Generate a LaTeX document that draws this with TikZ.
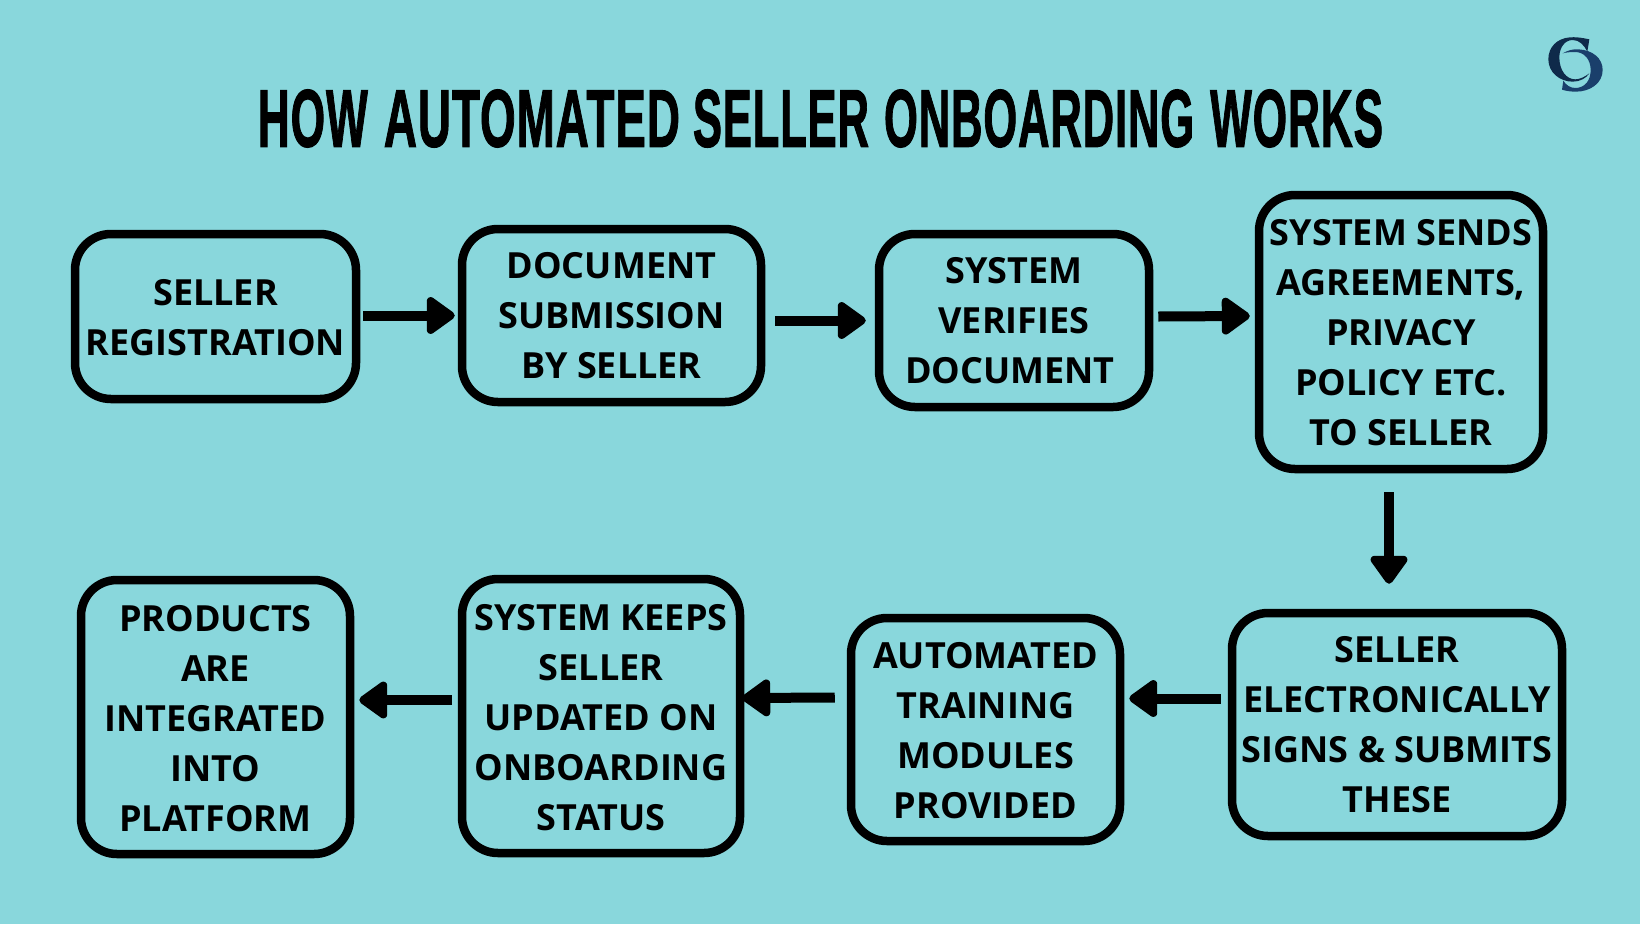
\documentclass[tikz,border=0pt]{standalone}
\usepackage{fontspec}
\usepackage{graphicx}
\usetikzlibrary{arrows.meta}
\setmainfont{Open Sans}[BoldFont={* Bold}]
\newfontfamily\titlefont{Liberation Sans Bold}[FakeBold=1.6,LetterSpace=2]
\definecolor{bgc}{HTML}{89D7DC}
\definecolor{logoa}{HTML}{0F2A4A}
\definecolor{logob}{HTML}{1A3F6B}
\newcommand{\tw}[2]{\resizebox{#1pt}{57pt}{\titlefont #2}}
\newcommand{\dn}[1]{\rule{0pt}{#1pt}}
\tikzset{
  stepbox/.style={draw=black,line width=8.5pt,rounded corners=36pt,inner sep=0pt,align=center,
    font=\fontsize{36}{50}\selectfont\bfseries,text=black},
  flowarr/.style={draw=black,line width=10pt,-{Triangle[length=31pt,width=42pt,round]}},
}
\begin{document}
\begin{tikzpicture}[x=1pt,y=-1pt]
\useasboundingbox (0,0) rectangle (1640,924);
\fill[bgc] (0,0) rectangle (1640,924);
\node[inner sep=0pt,anchor=center] (title) at (820.5,118.5) {\tw{110}{HOW}\hspace{16pt}\tw{296}{AUTOMATED}\hspace{13pt}\tw{176}{SELLER}\hspace{15pt}\tw{310}{ONBOARDING}\hspace{16pt}\tw{173}{WORKS}};
% logo
\begin{scope}[shift={(1500,20)},x=0.3333pt,y=-0.3333pt]
\fill[logoa] (268,58) .. controls (240,52) and (225,51) .. (210,52) .. controls (170,55) and (145,82) .. (145,118) .. controls (145,158) and (180,185) .. (218,185) .. controls (240,185) and (258,175) .. (268,160) .. controls (255,170) and (240,178) .. (226,178) .. controls (198,178) and (178,150) .. (178,112) .. controls (178,82) and (195,60) .. (218,60) .. controls (238,60) and (252,75) .. (262,95) -- cycle;
\fill[logob] (188,100) .. controls (205,90) and (220,87) .. (235,88) .. controls (278,90) and (308,115) .. (308,150) .. controls (308,190) and (270,215) .. (228,215) .. controls (212,215) and (198,213) .. (186,209) -- (190,182) .. controls (198,195) and (210,204) .. (226,204) .. controls (254,204) and (272,182) .. (272,150) .. controls (272,118) and (252,96) .. (226,96) .. controls (212,96) and (198,97) .. (188,100) -- cycle;
\end{scope}
% top row
\node[stepbox,minimum width=281pt,minimum height=165pt] (a) at (215.5,316.5) {\dn{28.8}SELLER\\REGISTRATION};
\node[stepbox,minimum width=299pt,minimum height=173pt] (b) at (611.5,315.5) {DOCUMENT\\SUBMISSION\\BY SELLER};
\node[stepbox,minimum width=270pt,minimum height=173pt] (c) at (1014,320.5) {SYSTEM\\VERIFIES\\DOCUMENT\rule{8pt}{0pt}};
\node[stepbox,minimum width=284pt,minimum height=274pt] (d) at (1401,332) {\dn{27.5}SYSTEM SENDS\\AGREEMENTS,\\PRIVACY\\POLICY ETC.\\TO SELLER};
% bottom row
\node[stepbox,minimum width=330pt,minimum height=223pt] (e) at (1397,724.5) {SELLER\\ELECTRONICALLY\\SIGNS \& SUBMITS\\THESE};
\node[stepbox,minimum width=269pt,minimum height=223pt] (f) at (985.5,729.5) {\dn{28.8}AUTOMATED\\TRAINING\\MODULES\\PROVIDED};
\node[stepbox,minimum width=278pt,minimum height=274pt] (g) at (601,716) {\dn{29.2}SYSTEM KEEPS\\SELLER\\UPDATED ON\\ONBOARDING\\STATUS};
\node[stepbox,minimum width=269pt,minimum height=274pt] (h) at (215.5,717) {\dn{29.2}PRODUCTS\\ARE\\INTEGRATED\\INTO\\PLATFORM};
% connectors
\draw[flowarr] ([shift={(3,-1)}]a.east) -- ([shift={(-3,0)}]b.west);
\draw[flowarr] ([shift={(10,5)}]b.east) -- ([shift={(-9,0)}]c.west);
\draw[flowarr] ([shift={(5,-4)}]c.east) -- ([shift={(-5,-16)}]d.west);
\draw[flowarr] ([shift={(-12,19)}]d.south) -- ([shift={(-8,-25)}]e.north);
\draw[flowarr] ([shift={(-7,-26)}]e.west) -- ([shift={(5,-31)}]f.east);
\draw[flowarr] ([shift={(-12,-32)}]f.west) -- ([shift={(-2,-18)}]g.east);
\draw[flowarr] ([shift={(-6,-16)}]g.west) -- ([shift={(5,-17)}]h.east);
\end{tikzpicture}
\end{document}
